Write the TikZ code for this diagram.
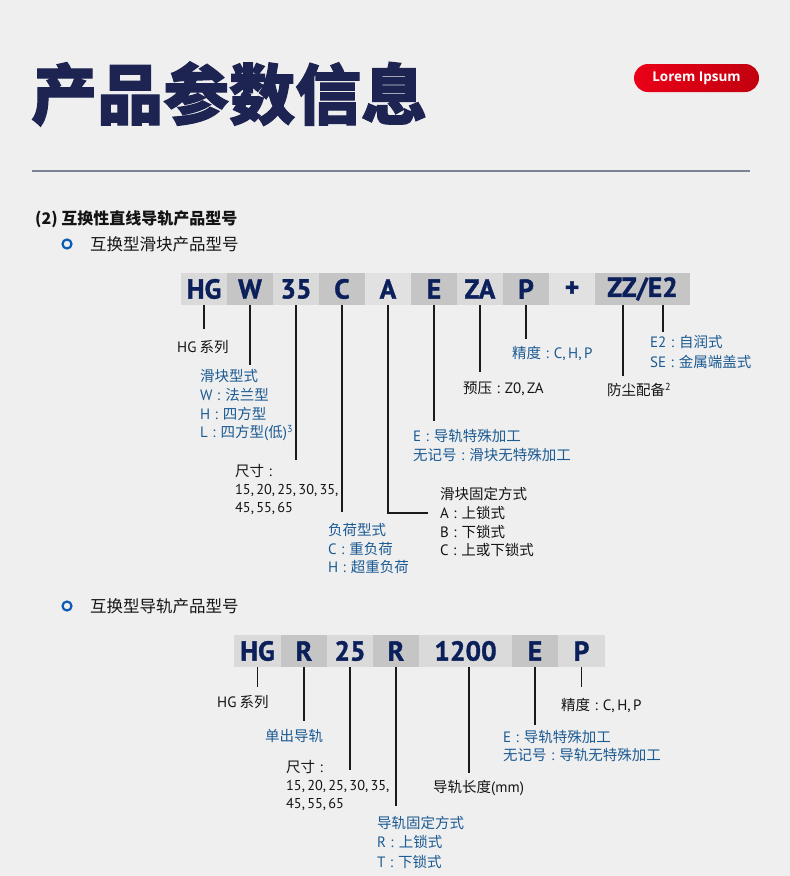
\documentclass[tikz,border=0pt]{standalone}
\usepackage{fontspec}
\setmainfont{Noto Sans CJK SC}
\newfontfamily\titlefont{Noto Sans CJK SC}[BoldFeatures={FakeBold=1.6}]
\newfontfamily\barfont{PT Sans}[BoldFeatures={FakeBold=1.2}]
\newfontfamily\latfont{PT Sans}
\newfontfamily\pillfont{Open Sans}
\newcommand{\lt}[1]{{\latfont\fontsize{15}{16}\selectfont #1}}
\newcommand{\numl}[1]{{\latfont\fontsize{14.3}{16}\selectfont #1}}
\newcommand{\cc}{\hspace{0.3em}{\latfont\fontsize{15}{16}\selectfont :}\hspace{0.35em}}
\newcommand{\cs}{,\hspace{0.16em}}
\definecolor{bg}{HTML}{EFEFEF}
\definecolor{titlec}{HTML}{1E2452}
\definecolor{navy}{HTML}{0B1F5A}
\definecolor{rulec}{HTML}{7C8397}
\definecolor{redA}{HTML}{EA0018}
\definecolor{redB}{HTML}{C2000E}
\definecolor{txtk}{HTML}{141414}
\definecolor{txtb}{HTML}{1B5A92}
\definecolor{bul}{HTML}{0E5BB5}
\definecolor{cl}{HTML}{DADADA}
\definecolor{cd}{HTML}{C5C5C5}
\definecolor{cx}{HTML}{E1E1E1}
\definecolor{linec}{HTML}{1A1A1A}
\tikzset{
  lblk/.style={anchor=west, inner sep=0pt, font=\fontsize{14.5}{16}\selectfont, text=txtk},
  lblb/.style={lblk, text=txtb},
  cell/.style={minimum width=46pt, minimum height=32pt, inner sep=0pt,
    font=\barfont\bfseries\fontsize{27.5}{27.5}\selectfont, text=navy},
  conn/.style={line width=1.3pt, draw=linec},
  bullet/.style={circle, draw=bul, line width=2.2pt, minimum size=9pt, inner sep=0pt},
  head/.style={anchor=west, inner sep=0pt, text=txtk},
}
\begin{document}
\begin{tikzpicture}[x=1pt,y=-1pt]
\fill[bg] (0,0) rectangle (790,876);
\useasboundingbox (0,0) rectangle (790,876);

% title
\node[anchor=west, inner sep=0pt, text=titlec, font=\titlefont\bfseries\fontsize{66}{66}\selectfont] (title) at (31,94) {产品参数信息};
\node[rounded corners=14pt, minimum width=125pt, minimum height=28pt, inner sep=0pt,
  left color=redA, right color=redB, text=white,
  font=\pillfont\bfseries\fontsize{13.5}{13.5}\selectfont] (pill) at (696.5,78) {Lorem Ipsum};
\coordinate (ruleL) at (32,171);
\coordinate (ruleR) at (750,171);
\draw[rulec, line width=2pt] (ruleL) -- (ruleR);

% headings
\node[head, font=\bfseries\fontsize{16}{16}\selectfont] (h2) at (35,219) {(2) 互换性直线导轨产品型号};
\node[bullet] (b1) at (67,244) {};
\node[head, font=\fontsize{16.5}{16.5}\selectfont] (h2a) at (90,244) {互换型滑块产品型号};
\node[bullet] (b2) at (67,606) {};
\node[head, font=\fontsize{16.5}{16.5}\selectfont] (h2b) at (90,606) {互换型导轨产品型号};

% ---- bar 1
\node[cell, fill=cl] (hg) at (204,289) {HG};
\node[cell, fill=cd] (w) at (250,289) {W};
\node[cell, fill=cl] (s35) at (296,289) {35};
\node[cell, fill=cd] (c) at (342,289) {C};
\node[cell, fill=cx] (a) at (388,289) {A};
\node[cell, fill=cd] (e) at (434,289) {E};
\node[cell, fill=cl] (za) at (480,289) {ZA};
\node[cell, fill=cd] (p) at (526,289) {P};
\node[cell, fill=cx] (plus) at (572,289) {+};
\node[cell, fill=cd, minimum width=95pt] (zz) at (642.5,289) {ZZ/E2};

% labels bar 1
\node[lblk] (hgs) at (177,347) {\lt{HG} 系列};
\node[lblb] (wt1) at (200,376) {滑块型式};
\node[lblb] (wt2) at (200,395) {\lt{W}\cc 法兰型};
\node[lblb] (wt3) at (200,414) {\lt{H}\cc 四方型};
\node[lblb] (wt4) at (200,433) {\lt{L}\cc 四方型\lt{(}低\lt{)}\textsuperscript{\latfont 3}};
\node[lblk] (sz1) at (235,471) {尺寸\cc};
\node[lblk] (sz2) at (235,490) {\numl{15\cs20\cs25\cs30\cs35,}};
\node[lblk] (sz3) at (235,508) {\numl{45\cs55\cs65}};
\node[lblb] (ld1) at (328,530) {负荷型式};
\node[lblb] (ld2) at (328,549) {\lt{C}\cc 重负荷};
\node[lblb] (ld3) at (328,567) {\lt{H}\cc 超重负荷};
\node[lblk] (fx1) at (440,494) {滑块固定方式};
\node[lblk] (fx2) at (440,513) {\lt{A}\cc 上锁式};
\node[lblk] (fx3) at (440,532) {\lt{B}\cc 下锁式};
\node[lblk] (fx4) at (440,550) {\lt{C}\cc 上或下锁式};
\node[lblb] (ee1) at (413,436) {\lt{E}\cc 导轨特殊加工};
\node[lblb] (ee2) at (413,455) {无记号\cc 滑块无特殊加工};
\node[lblk] (pre) at (463,389) {预压\cc\lt{Z0\cs ZA}};
\node[lblb] (acc) at (512,353) {精度\cc\lt{C\cs H\cs P}};
\node[lblk] (dust) at (607,390) {防尘配备\textsuperscript{\latfont 2}};
\node[lblb] (e21) at (650,342) {\lt{E2}\cc 自润式};
\node[lblb] (e22) at (650,362) {\lt{SE}\cc 金属端盖式};

% connectors bar 1
\draw[conn] (hg.south) -- ++(0,24);
\draw[conn] (w.south) -- ++(0,60);
\draw[conn] (s35.south) -- ++(0,155);
\draw[conn] (c.south) -- ++(0,207);
\draw[conn] (a.south) |- ([xshift=-12pt]fx2.west);
\draw[conn] (e.south) -- ++(0,116);
\draw[conn] (za.south) -- ++(0,67);
\draw[conn] (p.south) -- ++(0,34);
\draw[conn] ([xshift=-19.5pt]zz.south) -- ++(0,71);
\draw[conn] ([xshift=20.5pt]zz.south) -- ++(0,27);

% ---- bar 2
\node[cell, fill=cl, minimum width=47pt] (hg2) at (257.5,651) {HG};
\node[cell, fill=cd] (r1) at (304,651) {R};
\node[cell, fill=cl] (s25) at (350,651) {25};
\node[cell, fill=cd] (r2) at (396,651) {R};
\node[cell, fill=cl, minimum width=93pt] (len) at (465.5,651) {1200};
\node[cell, fill=cd] (e2) at (535,651) {E};
\node[cell, fill=cl, minimum width=47pt] (p2) at (581.5,651) {P};

% labels bar 2
\node[lblk] (hgs2) at (217,702) {\lt{HG} 系列};
\node[lblb] (single) at (265,736) {单出导轨};
\node[lblk] (zs1) at (286,767) {尺寸\cc};
\node[lblk] (zs2) at (286,786) {\numl{15\cs20\cs25\cs30\cs35,}};
\node[lblk] (zs3) at (286,804) {\numl{45\cs55\cs65}};
\node[lblb] (rf1) at (377,823) {导轨固定方式};
\node[lblb] (rf2) at (377,842) {\lt{R}\cc 上锁式};
\node[lblb] (rf3) at (377,862) {\lt{T}\cc 下锁式};
\node[lblk] (rlen) at (433,788) {导轨长度\lt{(mm)}};
\node[lblb] (re1) at (503,737) {\lt{E}\cc 导轨特殊加工};
\node[lblb] (re2) at (503,755) {无记号\cc 导轨无特殊加工};
\node[lblk] (racc) at (561,705) {精度\cc\lt{C\cs H\cs P}};

% connectors bar 2
\draw[conn] (hg2.south) -- ++(0,20);
\draw[conn] (r1.south) -- ++(0,54);
\draw[conn] (s25.south) -- ++(0,103);
\draw[conn] (r2.south) -- ++(0,139);
\draw[conn] ([xshift=3.5pt]len.south) -- ++(0,106);
\draw[conn] (e2.south) -- ++(0,58);
\draw[conn] (p2.south) -- ++(0,20);
\end{tikzpicture}
\end{document}
